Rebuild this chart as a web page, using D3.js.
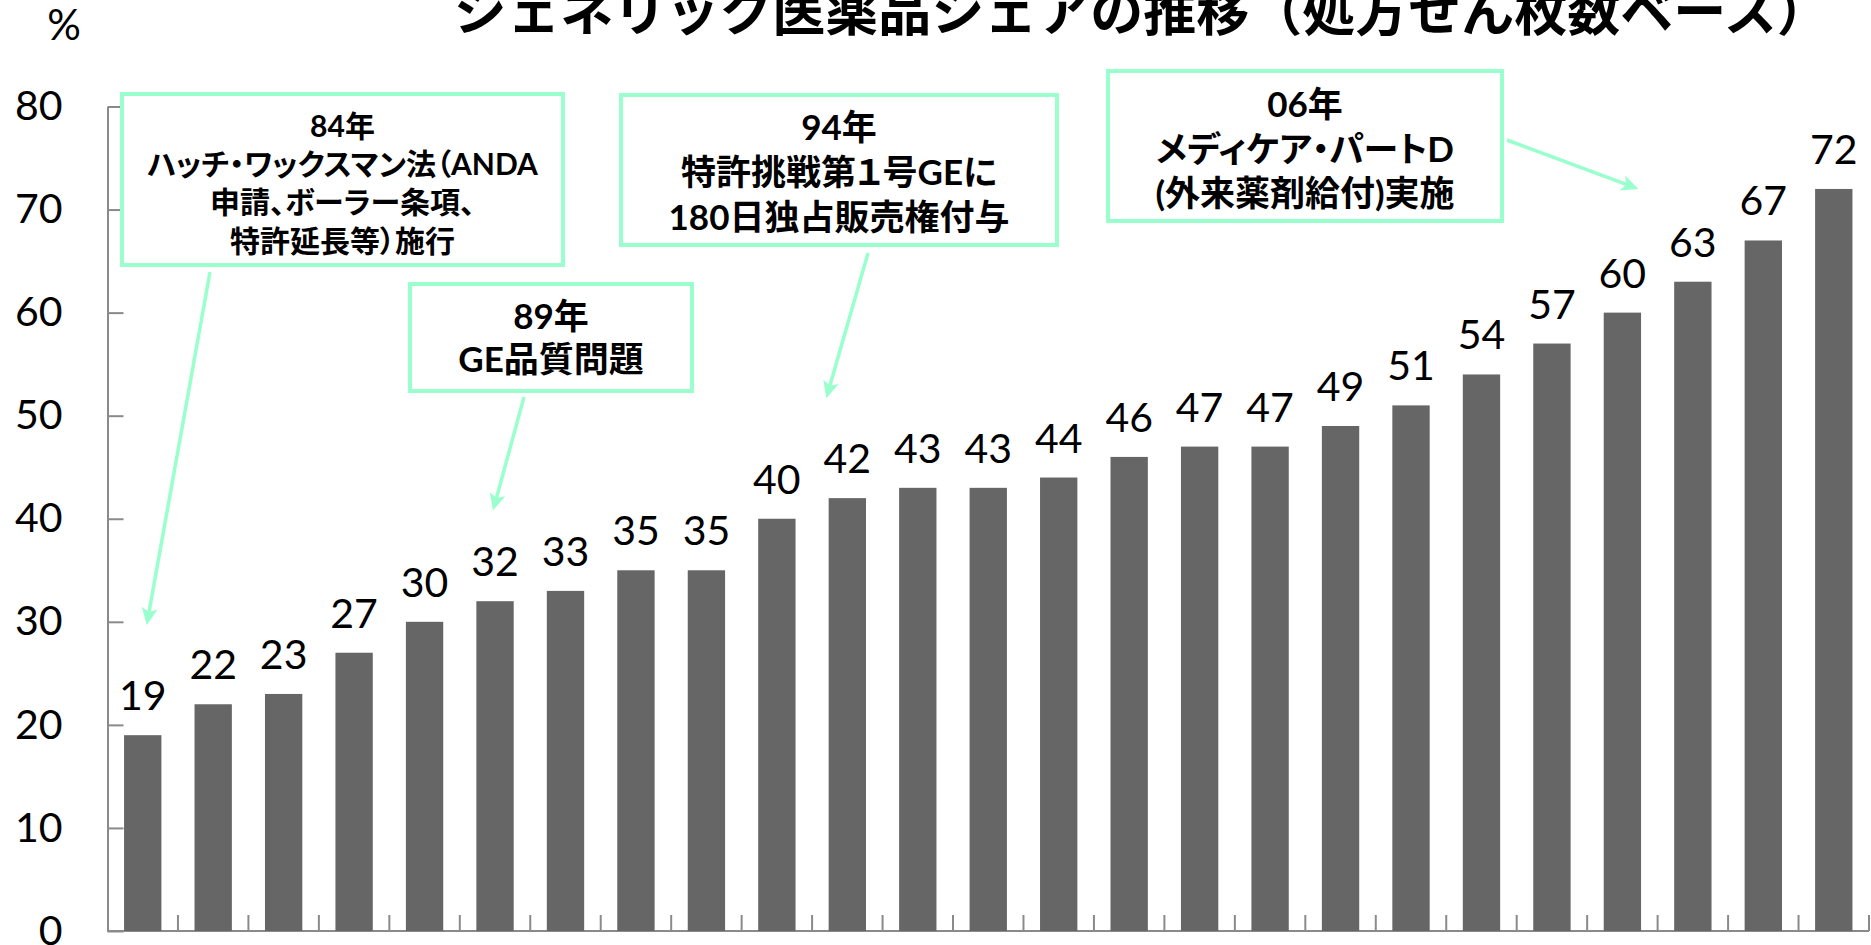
<!DOCTYPE html>
<html>
<head>
<meta charset="utf-8">
<script src="https://cdn.jsdelivr.net/npm/d3@7"></script>
<style>
  html, body { margin: 0; padding: 0; background: #fff; }
  svg { display: block; }
  .note text { font-feature-settings: "palt"; }
</style>
</head>
<body>
<div id="chart"></div>
<script>
// データ（処方せん枚数ベースのGEシェア, %）
const years = ['1984','1985','1986','1987','1988','1989','1990','1991','1992','1993','1994','1995','1996',
  '1997','1998','1999','2000','2001','2002','2003','2004','2005','2006','2007','2008'];
const shares = [19, 22, 23, 27, 30, 32, 33, 35, 35, 40, 42, 43, 43, 44, 46, 47, 47, 49, 51, 54, 57, 60, 63, 67, 72];
const yTicks = [0, 10, 20, 30, 40, 50, 60, 70, 80];

const titleText = 'ジェネリック医薬品シェアの推移（処方せん枚数ベース）';
const unitText = '%';

const note84 = ['84年', 'ハッチ・ワックスマン法（ANDA', '申請、ボーラー条項、', '特許延長等）施行'];
const note89 = ['89年', 'GE品質問題'];
const note94 = ['94年', '特許挑戦第１号GEに', '180日独占販売権付与'];
const note06 = ['06年', 'メディケア・パートD', '(外来薬剤給付)実施'];

// レイアウト
const W = 1871, H = 945;
const BAR = '#666666', AXIS = '#8a8a8a', MINT = '#99ffcc';
const NUM_FONT = 'Lato, "Noto Sans", sans-serif';
const JP_FONT = 'Lato, "Noto Sans CJK JP", sans-serif';

const svg = d3.select('#chart').append('svg')
  .attr('width', W).attr('height', H);

svg.append('rect').attr('width', W).attr('height', H).attr('fill', '#fff');

const x = d3.scaleBand().domain(years).range([107.5, 1869])
  .paddingInner(0.47).paddingOuter(0.235);
const y = d3.scaleLinear().domain([0, 80]).range([931, 106.5]);

// タイトル（上端が切れている）
svg.append('text')
  .attr('x', 1142).attr('y', 31)
  .attr('text-anchor', 'middle')
  .style('font-family', '"Noto Sans CJK JP", sans-serif')
  .style('font-weight', 700)
  .style('font-size', '53px')
  .attr('fill', '#000')
  .text(titleText);

svg.append('text')
  .attr('x', 64).attr('y', 40)
  .attr('text-anchor', 'middle')
  .style('font-family', NUM_FONT)
  .style('font-size', '42px')
  .text(unitText);

// Y軸
const yAxis = svg.append('g')
  .attr('transform', `translate(${x.range()[0]},0)`)
  .call(d3.axisLeft(y).tickValues(yTicks).tickSizeInner(-16).tickSizeOuter(0).tickPadding(45));
yAxis.select('.domain').attr('stroke', AXIS).attr('stroke-width', 2);
yAxis.selectAll('.tick line').attr('stroke', AXIS).attr('stroke-width', 2);
yAxis.selectAll('.tick text')
  .style('font-family', NUM_FONT).style('font-size', '41px').attr('fill', '#000');

// X軸（ラベルなし、カテゴリ境界に内向き目盛）
const xg = svg.append('g');
xg.append('line')
  .attr('x1', x.range()[0]).attr('x2', x.range()[1])
  .attr('y1', y(0)).attr('y2', y(0))
  .attr('stroke', AXIS).attr('stroke-width', 2);
xg.selectAll('line.xtick')
  .data(years)
  .join('line')
  .attr('class', 'xtick')
  .attr('x1', d => x(d) + x.bandwidth() / 2 + x.step() / 2)
  .attr('x2', d => x(d) + x.bandwidth() / 2 + x.step() / 2)
  .attr('y1', y(0)).attr('y2', y(0) - 16)
  .attr('stroke', AXIS).attr('stroke-width', 2);

// 棒
const rows = years.map((yr, i) => ({ year: yr, value: shares[i] }));
svg.append('g').selectAll('rect')
  .data(rows)
  .join('rect')
  .attr('x', d => x(d.year))
  .attr('y', d => y(d.value))
  .attr('width', x.bandwidth())
  .attr('height', d => y(0) - y(d.value))
  .attr('fill', BAR);

// 値ラベル
svg.append('g').selectAll('text')
  .data(rows)
  .join('text')
  .attr('x', d => x(d.year) + x.bandwidth() / 2)
  .attr('y', d => y(d.value) - 25)
  .attr('text-anchor', 'middle')
  .style('font-family', NUM_FONT)
  .style('font-size', '41px')
  .attr('fill', '#000')
  .text(d => d.value);

// 注記ボックス + 矢印
const notes = [
  { lines: note84, box: [122, 94, 563, 265], fs: 30, base: 136.7, lh: 38.3,
    from: [210, 272], tip: { year: '1984', value: 29.7, dx: 4 } },
  { lines: note89, box: [410, 284, 692, 391], fs: 35, base: 328.5, lh: 43.5,
    from: [524, 397], tip: { year: '1989', value: 40.8, dx: -2 } },
  { lines: note94, box: [621, 95, 1057, 245], fs: 35, base: 140, lh: 44.8,
    from: [868, 253], tip: { year: '1994', value: 51.7, dx: -21 } },
  { lines: note06, box: [1108, 71, 1502, 221], fs: 35, base: 117, lh: 44.5,
    from: [1507, 140], tip: { year: '2005', value: 72, dx: 16 } }
];

const arrowG = svg.append('g');
notes.forEach(n => {
  const tx = x(n.tip.year) + x.bandwidth() / 2 + n.tip.dx;
  const ty = y(n.tip.value);
  const [sx, sy] = n.from;
  const len = Math.hypot(tx - sx, ty - sy);
  const ux = (tx - sx) / len, uy = (ty - sy) / len;
  const nx = -uy, ny = ux;
  arrowG.append('line')
    .attr('x1', sx).attr('y1', sy)
    .attr('x2', tx - ux * 10).attr('y2', ty - uy * 10)
    .attr('stroke', MINT).attr('stroke-width', 3.5);
  arrowG.append('path')
    .attr('d', `M${tx},${ty}` +
      `L${tx - ux * 17 + nx * 8},${ty - uy * 17 + ny * 8}` +
      `L${tx - ux * 13},${ty - uy * 13}` +
      `L${tx - ux * 17 - nx * 8},${ty - uy * 17 - ny * 8}Z`)
    .attr('fill', MINT);
});

const noteG = svg.append('g').attr('class', 'note');
notes.forEach(n => {
  const [x0, y0, x1, y1] = n.box;
  noteG.append('rect')
    .attr('x', x0).attr('y', y0)
    .attr('width', x1 - x0).attr('height', y1 - y0)
    .attr('fill', '#fff')
    .attr('stroke', MINT).attr('stroke-width', 4);
  const t = noteG.append('text')
    .attr('text-anchor', 'middle')
    .style('font-family', JP_FONT)
    .style('font-weight', 700)
    .style('font-size', n.fs + 'px')
    .attr('fill', '#000');
  n.lines.forEach((line, i) => {
    t.append('tspan')
      .attr('x', (x0 + x1) / 2)
      .attr('y', n.base + i * n.lh)
      .text(line);
  });
});
</script>
</body>
</html>
